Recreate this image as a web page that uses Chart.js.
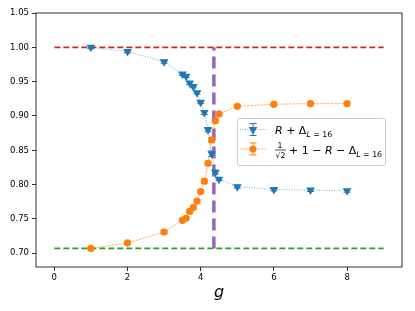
<!DOCTYPE html>
<html>
<head>
<meta charset="utf-8">
<script src="https://cdn.jsdelivr.net/npm/chart.js@4/dist/chart.umd.min.js"></script>
<style>
  html, body { margin: 0; padding: 0; background: #fff; }
  #wrap { width: 415px; height: 311px; }
</style>
</head>
<body>
<div id="wrap"><canvas id="chart" width="415" height="311"></canvas></div>
<script>
// values
const gValues      = [1, 2, 3, 3.5, 3.6, 3.7, 3.8, 3.9, 4.0, 4.1, 4.2, 4.3, 4.4, 4.5, 5, 6, 7, 8];
const blueValues   = [1.000, 0.994, 0.979, 0.961, 0.958, 0.948, 0.943, 0.934, 0.920, 0.905, 0.880, 0.845, 0.818, 0.808, 0.797, 0.793, 0.792, 0.791];
const blueErrors   = [0.002, 0.002, 0.002, 0.002, 0.002, 0.002, 0.002, 0.002, 0.002, 0.003, 0.003, 0.004, 0.003, 0.002, 0.002, 0.002, 0.002, 0.002];
const orangeValues = [0.707, 0.715, 0.731, 0.748, 0.751, 0.761, 0.767, 0.776, 0.790, 0.805, 0.831, 0.865, 0.893, 0.903, 0.914, 0.917, 0.918, 0.918];
const orangeErrors = [0.002, 0.002, 0.002, 0.002, 0.002, 0.002, 0.002, 0.002, 0.002, 0.003, 0.003, 0.004, 0.003, 0.002, 0.002, 0.002, 0.002, 0.002];

const xTicks = [0, 2, 4, 6, 8];
const yTicks = [0.70, 0.75, 0.80, 0.85, 0.90, 0.95, 1.00, 1.05];

const upperRef = 1.0;
const lowerRef = 0.7071;
const refSpan = [0, 9];
const gCritical = 4.36;

const BLUE = "#1f77b4", ORANGE = "#ff7f0e";

function pts(xs, ys) {
    return xs.map((x, i) => ({ x: x, y: ys[i] }));
}

function triangleDown(ctx, x, y, r) {
    ctx.beginPath();
    ctx.moveTo(x - r * 0.87, y - r * 0.5);
    ctx.lineTo(x + r * 0.87, y - r * 0.5);
    ctx.lineTo(x, y + r);
    ctx.closePath();
    ctx.fill();
}

function circle(ctx, x, y, r) {
    ctx.beginPath();
    ctx.arc(x, y, r, 0, Math.PI * 2);
    ctx.fill();
}

function errBar(ctx, x, yTop, yBot, color) {
    ctx.strokeStyle = color;
    ctx.lineWidth = 1;
    ctx.setLineDash([]);
    ctx.beginPath();
    ctx.moveTo(x, yTop); ctx.lineTo(x, yBot);
    ctx.moveTo(x - 3.5, yTop); ctx.lineTo(x + 3.5, yTop);
    ctx.moveTo(x - 3.5, yBot); ctx.lineTo(x + 3.5, yBot);
    ctx.stroke();
}

const errorBars = {
    id: "errorBars",
    beforeDatasetsDraw(chart) {
        const ctx = chart.ctx, xs = chart.scales.x, ys = chart.scales.y;
        ctx.save();
        [[blueValues, blueErrors, BLUE], [orangeValues, orangeErrors, ORANGE]].forEach(([vals, errs, col]) => {
            gValues.forEach((g, i) => {
                errBar(ctx, xs.getPixelForValue(g), ys.getPixelForValue(vals[i] + errs[i]),
                       ys.getPixelForValue(vals[i] - errs[i]), col);
            });
        });
        ctx.restore();
    }
};

const frame = {
    id: "frame",
    afterDraw(chart) {
        const a = chart.chartArea, ctx = chart.ctx;
        ctx.save();
        ctx.strokeStyle = "#000";
        ctx.lineWidth = 0.8;
        ctx.strokeRect(a.left, a.top, a.right - a.left, a.bottom - a.top);
        ctx.restore();
    }
};

function drawRuns(ctx, x, y, runs) {
    runs.forEach(r => {
        ctx.font = r.font;
        ctx.fillText(r.t, x, y + (r.dy || 0));
        x += ctx.measureText(r.t).width;
    });
    return x;
}

const mathLegend = {
    id: "mathLegend",
    afterDraw(chart) {
        const ctx = chart.ctx;
        const bx = 237, by = 118, bw = 148, bh = 47;
        ctx.save();
        ctx.fillStyle = "rgba(255,255,255,0.8)";
        ctx.strokeStyle = "#cccccc";
        ctx.lineWidth = 1;
        ctx.beginPath();
        ctx.roundRect(bx + 0.5, by + 0.5, bw, bh, 2);
        ctx.fill();
        ctx.stroke();

        const rows = [
            { y: 129.5, color: BLUE, dash: [1, 1.5], marker: "tri" },
            { y: 149, color: ORANGE, dash: [2.5, 1], marker: "circ" }
        ];
        rows.forEach(r => {
            ctx.strokeStyle = r.color;
            ctx.lineWidth = 0.6;
            ctx.setLineDash(r.dash);
            ctx.beginPath();
            ctx.moveTo(240, r.y); ctx.lineTo(266, r.y);
            ctx.stroke();
            errBar(ctx, 253, r.y - 6, r.y + 6, r.color);
            ctx.fillStyle = r.color;
            if (r.marker === "tri") triangleDown(ctx, 253, r.y, 5);
            else circle(ctx, 253, r.y, 3.6);
        });

        const main = "11px 'DejaVu Sans'", ital = "italic 11px 'DejaVu Sans'";
        const sub = "7.8px 'DejaVu Sans'", subI = "italic 7.8px 'DejaVu Sans'";
        ctx.fillStyle = "#000";
        ctx.textBaseline = "alphabetic";
        ctx.textAlign = "left";

        let x = drawRuns(ctx, 275, 134, [
            { t: "R", font: ital }, { t: " + ", font: main }, { t: "Δ", font: main }
        ]);
        drawRuns(ctx, x, 134, [
            { t: "L", font: subI, dy: 2.5 }, { t: " = 16", font: sub, dy: 2.5 }
        ]);

        // fraction 1/sqrt(2)
        ctx.font = sub;
        ctx.textAlign = "center";
        ctx.fillText("1", 280, 147.5);
        ctx.fillText("√2", 280.5, 158);
        ctx.strokeStyle = "#000";
        ctx.setLineDash([]);
        ctx.lineWidth = 0.7;
        ctx.beginPath();
        ctx.moveTo(275, 150); ctx.lineTo(286, 150);
        ctx.stroke();
        ctx.textAlign = "left";

        x = drawRuns(ctx, 289, 154, [
            { t: "+ 1 − ", font: main }, { t: "R", font: ital }, { t: " − Δ", font: main }
        ]);
        drawRuns(ctx, x, 154, [
            { t: "L", font: subI, dy: 2.5 }, { t: " = 16", font: sub, dy: 2.5 }
        ]);
        ctx.restore();
    }
};

const tickFont = { family: "DejaVu Sans", size: 8.5 };

new Chart(document.getElementById("chart").getContext("2d"), {
    type: "line",
    data: {
        datasets: [
            {
                data: pts(gValues, blueValues),
                borderColor: BLUE, backgroundColor: BLUE,
                borderWidth: 0.6, borderDash: [1, 1.5],
                pointStyle: "triangle", rotation: 180, pointRadius: 5,
                pointBorderWidth: 0, pointBackgroundColor: BLUE
            },
            {
                data: pts(gValues, orangeValues),
                borderColor: ORANGE, backgroundColor: ORANGE,
                borderWidth: 0.6, borderDash: [2.5, 1],
                pointStyle: "circle", pointRadius: 3.6,
                pointBorderWidth: 0, pointBackgroundColor: ORANGE
            },
            {
                data: pts(refSpan, [upperRef, upperRef]),
                borderColor: "#d62728", borderWidth: 1.7, borderDash: [6, 3], pointRadius: 0
            },
            {
                data: pts(refSpan, [lowerRef, lowerRef]),
                borderColor: "#2ca02c", borderWidth: 1.7, borderDash: [6, 3], pointRadius: 0
            },
            {
                data: pts([gCritical, gCritical], [lowerRef, upperRef]),
                borderColor: "#9467bd", borderWidth: 3.5, borderDash: [12, 6], pointRadius: 0
            }
        ]
    },
    options: {
        responsive: false,
        animation: false,
        devicePixelRatio: 1,
        layout: { padding: { left: 0, top: 13, right: 13, bottom: 0 } },
        plugins: { legend: { display: false }, tooltip: { enabled: false } },
        scales: {
            x: {
                type: "linear", min: -0.5, max: 9.5,
                afterBuildTicks: s => { s.ticks = xTicks.map(v => ({ value: v })); },
                afterFit: s => { s.height = 44; },
                grid: { drawOnChartArea: false, drawTicks: true, tickLength: 4, tickColor: "#000", lineWidth: 0.8 },
                border: { display: false },
                ticks: { color: "#000", font: tickFont, padding: 2, maxRotation: 0, callback: v => String(v) },
                title: {
                    display: true, text: "g", color: "#000",
                    font: { family: "DejaVu Sans", size: 16, style: "italic" },
                    padding: { top: 0, bottom: 9 }
                }
            },
            y: {
                type: "linear", min: 0.68, max: 1.05,
                afterBuildTicks: s => { s.ticks = yTicks.map(v => ({ value: v })); },
                afterFit: s => { s.width = 36; },
                grid: { drawOnChartArea: false, drawTicks: true, tickLength: 4, tickColor: "#000", lineWidth: 0.8 },
                border: { display: false },
                ticks: { color: "#000", font: tickFont, padding: 3, callback: v => v.toFixed(2) }
            }
        }
    },
    plugins: [errorBars, frame, mathLegend]
});
</script>
</body>
</html>
